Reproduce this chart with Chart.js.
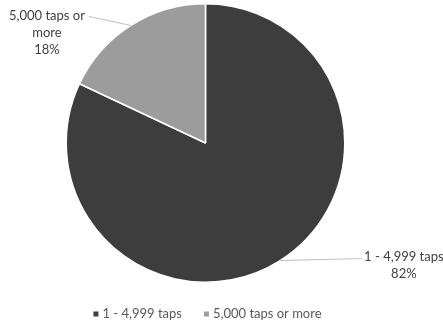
<!DOCTYPE html>
<html>
<head>
<meta charset="utf-8">
<script src="https://cdn.jsdelivr.net/npm/chart.js@4"></script>
<style>
  html, body { margin: 0; padding: 0; background: #fff; }
  #wrap { width: 443px; height: 327px; }
  canvas { filter: blur(0.5px); }
</style>
</head>
<body>
<div id="wrap"><canvas id="tapsChart" width="443" height="327"></canvas></div>
<script>
// Taps per user, share of users
const categories = ['1 - 4,999 taps', '5,000 taps or more'];
const shares = [82, 18];
const sliceColors = ['#3d3d3d', '#9c9c9c'];
// label text lines shown beside each slice (percent is appended)
const labelLines = [['1 - 4,999 taps'], ['5,000 taps or', 'more']];

const labelFont = '13px Lato';
const labelColor = '#404040';

// callout: leader line from the slice edge to an elbow, text next to it
const calloutPlugin = {
  id: 'callouts',
  afterDatasetsDraw(chart) {
    const ctx = chart.ctx;
    const meta = chart.getDatasetMeta(0);
    const total = shares.reduce((a, b) => a + b, 0);
    ctx.save();
    ctx.font = labelFont;
    ctx.fillStyle = labelColor;
    ctx.textBaseline = 'middle';
    meta.data.forEach((arc, i) => {
      const p = arc.getProps(['x', 'y', 'startAngle', 'endAngle', 'outerRadius'], true);
      const mid = (p.startAngle + p.endAngle) / 2;
      const ex = p.x + Math.cos(mid) * p.outerRadius;
      const ey = p.y + Math.sin(mid) * p.outerRadius;
      const right = Math.cos(mid) > 0;
      const lx = right ? ex + 82 : ex - 42;
      const ly = right ? ey - 2 : ey - 9;

      ctx.strokeStyle = '#bfbfbf';
      ctx.lineWidth = 1;
      ctx.beginPath();
      ctx.moveTo(ex, ey);
      ctx.lineTo(lx, ly);
      ctx.stroke();

      const lines = labelLines[i].concat([Math.round(shares[i] / total * 100) + '%']);
      const lh = 17;
      let cx, ty;
      if (right) {
        cx = lx + 2 + ctx.measureText(lines[0]).width / 2;
        ty = ly - 2;
      } else {
        cx = lx - 4 - ctx.measureText(lines[0]).width / 2;
        ty = ly - 1;
      }
      ctx.textAlign = 'center';
      lines.forEach((t, k) => ctx.fillText(t, cx, ty + k * lh));
    });
    ctx.restore();
  }
};

// legend row under the pie: small square + category name
const legendPlugin = {
  id: 'bottomLegend',
  afterDraw(chart) {
    const ctx = chart.ctx;
    const box = 5, gap = 4, itemGap = 22;
    ctx.save();
    ctx.font = labelFont;
    ctx.textBaseline = 'middle';
    ctx.textAlign = 'left';
    const widths = categories.map(c => ctx.measureText(c).width);
    const totalW = widths.reduce((s, w) => s + box + gap + w, 0) + itemGap * (categories.length - 1);
    const centerX = (chart.chartArea.left + chart.chartArea.right) / 2 + 2;
    const y = chart.chartArea.bottom + 31;
    let x = centerX - totalW / 2;
    categories.forEach((c, i) => {
      ctx.fillStyle = sliceColors[i];
      ctx.fillRect(x, y - box / 2, box, box);
      ctx.fillStyle = '#595959';
      ctx.fillText(c, x + box + gap, y);
      x += box + gap + widths[i] + itemGap;
    });
    ctx.restore();
  }
};

new Chart(document.getElementById('tapsChart'), {
  type: 'pie',
  data: {
    labels: categories,
    datasets: [{
      data: shares,
      backgroundColor: sliceColors,
      borderColor: '#ffffff',
      borderWidth: 1.5
    }]
  },
  options: {
    responsive: false,
    animation: false,
    layout: { padding: { top: 3, left: 0, right: 32, bottom: 44 } },
    plugins: {
      tooltip: { enabled: false },
      legend: { display: false }
    }
  },
  plugins: [calloutPlugin, legendPlugin]
});
</script>
</body>
</html>
